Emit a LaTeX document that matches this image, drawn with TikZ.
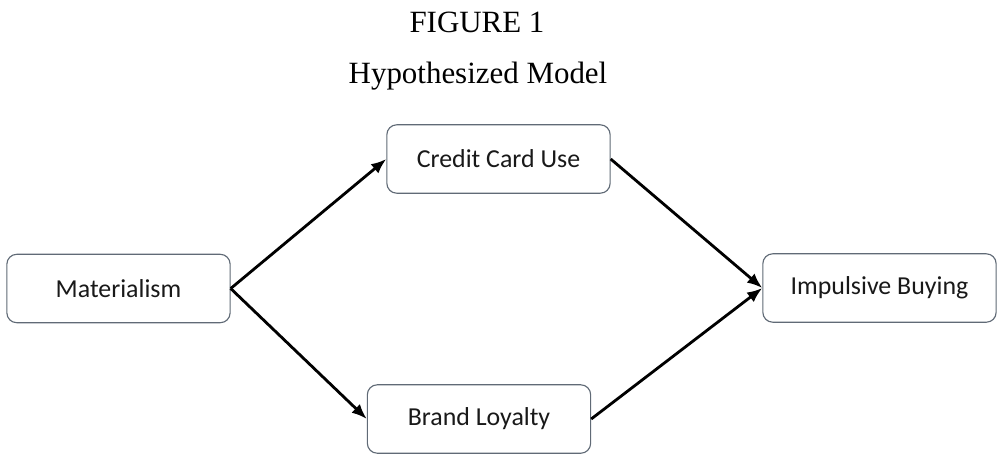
\documentclass[tikz,border=0pt]{standalone}
\usepackage{fontspec}
\setmainfont{Liberation Serif}
\newfontfamily\boxfont{Carlito}
\usetikzlibrary{arrows.meta}
\definecolor{ModelLine}{RGB}{96,106,118}
\definecolor{ModelInk}{RGB}{25,25,25}

\begin{document}
\begin{tikzpicture}[x=0.025cm,y=-0.025cm,
  box/.style={draw=ModelLine,line width=0.8pt,fill=white,rounded corners=7pt,minimum width=5.58cm,minimum height=1.71cm,text=ModelInk,font=\boxfont\fontsize{18.4}{22}\selectfont,align=center},
  arr/.style={-{Latex[length=3.8mm,width=3mm]},line width=2pt,draw=black},
  caption/.style={font=\fontsize{22}{26}\selectfont,text=black,anchor=base}]
  \useasboundingbox (0,0) rectangle (997,455);
  \node[caption] (figno) at (477,32) {FIGURE 1};
  \node[caption] (figtitle) at (478,83) {Hypothesized Model};
  \node[box] (materialism) at (118.5,288.5) {Materialism};
  \node[box] (creditcard) at (498.5,159) {Credit Card Use};
  \node[box] (loyalty) at (479,419) {Brand Loyalty};
  \node[box,minimum width=5.83cm] (impulsive) at (879.5,288) {Impulsive Buying};
  \draw[arr] (materialism.east)--(creditcard.west);
  \draw[arr] (materialism.east)--(loyalty.west);
  \draw[arr] (creditcard.east)--(impulsive.west);
  \draw[arr] (loyalty.east)--(impulsive.west);
\end{tikzpicture}
\end{document}
